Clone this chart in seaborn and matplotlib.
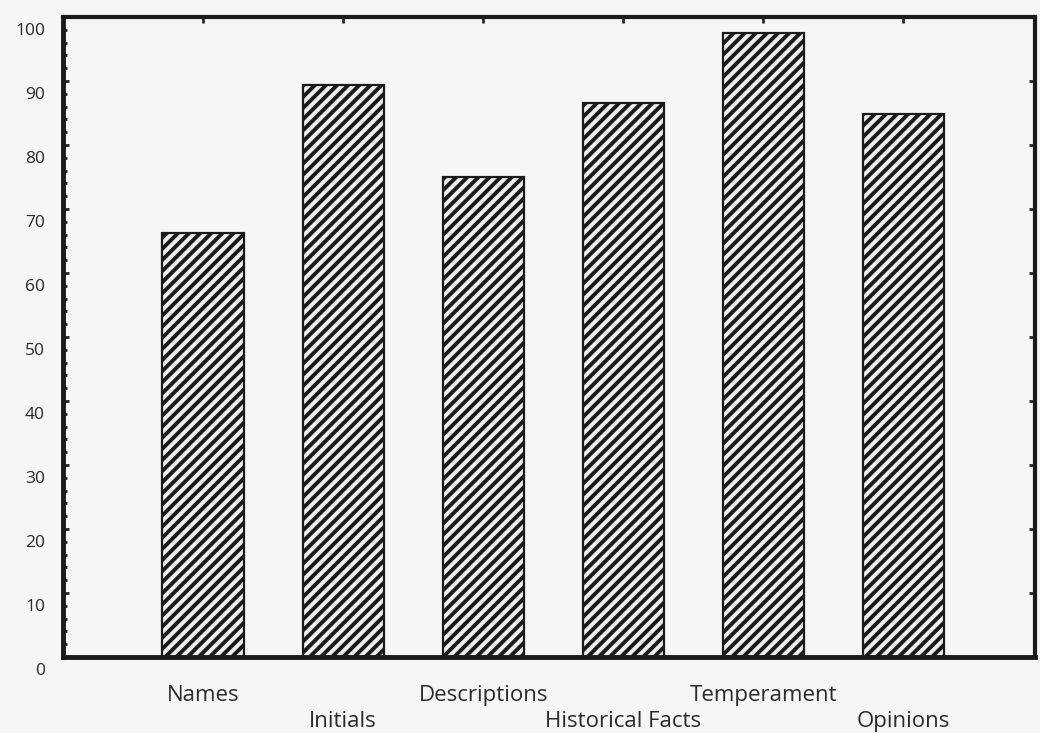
import numpy as np
import matplotlib
matplotlib.use("Agg")
import matplotlib.pyplot as plt
from matplotlib.transforms import ScaledTranslation
import seaborn as sns
import pandas as pd

# values
categories = ["Names", "Initials", "Descriptions", "Historical Facts", "Temperament", "Opinions"]
values = [66.3, 89.4, 75.0, 86.6, 97.5, 84.8]
y_ticks = [0, 10, 20, 30, 40, 50, 60, 70, 80, 90, 100]

sns.set_theme(style="white")
plt.rcParams["font.family"] = ["Open Sans", "DejaVu Sans"]
plt.rcParams["hatch.linewidth"] = 2.8
plt.rcParams["hatch.color"] = "#242424"

bg = "#f6f6f6"
fig = plt.figure(figsize=(10.4, 7.33), dpi=100, facecolor=bg)
ax = fig.add_axes([0.0606, 0.1037, 0.9346, 0.873])
ax.set_facecolor(bg)

df = pd.DataFrame({"category": categories, "value": values})
sns.barplot(data=df, x="category", y="value", color="white", edgecolor="#1a1a1a",
            linewidth=1.6, width=0.58, ax=ax)
for bar in ax.patches:
    bar.set_facecolor("#eeeeee")
    bar.set_hatch("///")

ax.set_xlim(-1.0, 5.94)
ax.set_ylim(0, 100)
ax.set_xlabel("")
ax.set_ylabel("")

# y axis
ax.set_yticks(y_ticks)
ax.set_yticklabels([str(t) for t in y_ticks], fontsize=12.5, color="#2a2a2a")
ax.set_yticks(np.arange(0, 101, 2), minor=True)
ax.tick_params(axis="y", which="major", direction="in", length=4, width=2,
               pad=13, right=True, left=True)
ax.tick_params(axis="y", which="minor", direction="in", length=3, width=2,
               left=True, right=False)
for lab in ax.get_yticklabels():
    lab.set_transform(lab.get_transform() + ScaledTranslation(0, -0.12, fig.dpi_scale_trans))

# x axis: staggered labels in two rows
xlabels = [c if i % 2 == 0 else "\n" + c for i, c in enumerate(categories)]
ax.set_xticks(range(len(categories)))
ax.set_xticklabels(xlabels, fontsize=16, color="#2a2a2a", linespacing=1.3)
ax.tick_params(axis="x", direction="in", length=4, width=2, pad=20, top=True, bottom=True)

for side in ["left", "bottom", "top", "right"]:
    ax.spines[side].set_visible(True)
    ax.spines[side].set_color("#1a1a1a")
ax.spines["left"].set_linewidth(3.5)
ax.spines["bottom"].set_linewidth(3.5)
ax.spines["top"].set_linewidth(3.0)
ax.spines["right"].set_linewidth(3.0)

fig.savefig("out.png", dpi=100, facecolor=bg)
